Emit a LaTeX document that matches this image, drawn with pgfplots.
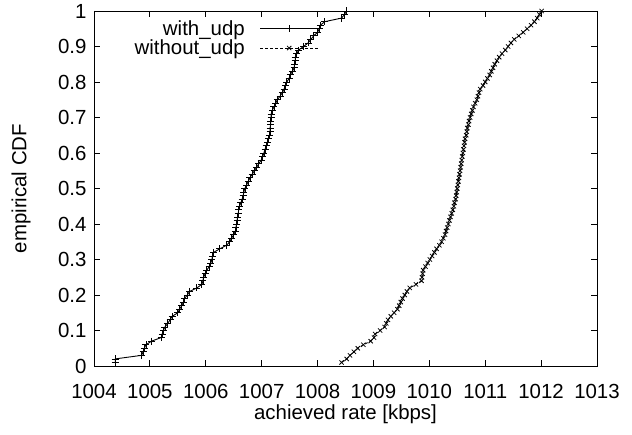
\documentclass[border=0pt]{standalone}
\usepackage{fontspec}
\setmainfont{Liberation Sans}
\usepackage{pgfplots}
\pgfplotsset{compat=1.18}
\begin{document}
\begin{tikzpicture}[font=\fontsize{20.5}{24}\selectfont]
\begin{axis}[
  name=ax,
  scale only axis,
  width=503bp, height=355bp,
  xmin=1004, xmax=1013, ymin=0, ymax=1,
  xtick={1004,1005,...,1013},
  xticklabels={1004,1005,1006,1007,1008,1009,1010,1011,1012,1013},
  ytick={0,0.1,0.2,0.3,0.4,0.5,0.6,0.7,0.8,0.9,1},
  yticklabels={0,0.1,0.2,0.3,0.4,0.5,0.6,0.7,0.8,0.9,1},
  tick align=inside,
  major tick length=6bp,
  tick style={black, line width=0.8bp},
  axis line style={line width=0.9bp},
  every tick label/.append style={font=\fontsize{20.5}{24}\selectfont},
  label style={font=\fontsize{20.5}{24}\selectfont},
  xlabel={achieved rate [kbps]},
  ylabel={empirical CDF},
  xticklabel style={anchor=center, yshift=-25bp},
  yticklabel style={xshift=-4bp},
  xlabel style={at={(axis description cs:0.5,0)}, anchor=center, yshift=-48bp},
  ylabel style={at={(axis description cs:0,0.5)}, anchor=center, rotate=0, yshift=73bp},
  legend style={draw=none, fill=none, at={(0.449,0.982)}, anchor=north east,
    legend cell align=right, row sep=-1bp, inner sep=1bp,
    font=\fontsize{20.5}{24}\selectfont,
    nodes={inner sep=2bp},
    /tikz/every odd column/.append style={column sep=13bp}},
  legend plot pos=right,
  legend image code/.code={\draw[mark repeat=2,mark phase=2,#1] plot coordinates {(0bp,0bp) (29bp,0bp) (58bp,0bp)};},
]
\addplot[black, line width=0.9bp, mark=+, mark size=3.5bp, mark options={solid, line width=0.8bp}] coordinates {
(1004.38,0.01)(1004.38,0.02)(1004.85,0.03)(1004.88,0.04)(1004.90,0.05)(1004.93,0.06)(1005.03,0.07)(1005.20,0.08)(1005.22,0.09)(1005.24,0.10)
(1005.27,0.11)(1005.32,0.12)(1005.36,0.13)(1005.40,0.14)(1005.50,0.15)(1005.53,0.16)(1005.57,0.17)(1005.60,0.18)(1005.62,0.19)(1005.67,0.20)
(1005.71,0.21)(1005.84,0.22)(1005.93,0.23)(1005.95,0.24)(1005.96,0.25)(1005.99,0.26)(1006.02,0.27)(1006.06,0.28)(1006.09,0.29)(1006.11,0.30)
(1006.12,0.31)(1006.14,0.32)(1006.25,0.33)(1006.37,0.34)(1006.43,0.35)(1006.46,0.36)(1006.50,0.37)(1006.53,0.38)(1006.54,0.39)(1006.55,0.40)
(1006.56,0.41)(1006.57,0.42)(1006.58,0.43)(1006.59,0.44)(1006.60,0.45)(1006.63,0.46)(1006.65,0.47)(1006.67,0.48)(1006.68,0.49)(1006.70,0.50)
(1006.73,0.51)(1006.76,0.52)(1006.79,0.53)(1006.83,0.54)(1006.87,0.55)(1006.91,0.56)(1006.95,0.57)(1006.99,0.58)(1007.02,0.59)(1007.04,0.60)
(1007.06,0.61)(1007.08,0.62)(1007.10,0.63)(1007.12,0.64)(1007.14,0.65)(1007.15,0.66)(1007.15,0.67)(1007.16,0.68)(1007.16,0.69)(1007.17,0.70)
(1007.17,0.71)(1007.19,0.72)(1007.22,0.73)(1007.25,0.74)(1007.28,0.75)(1007.33,0.76)(1007.37,0.77)(1007.40,0.78)(1007.43,0.79)(1007.45,0.80)
(1007.49,0.81)(1007.51,0.82)(1007.55,0.83)(1007.58,0.84)(1007.59,0.85)(1007.60,0.86)(1007.60,0.87)(1007.63,0.88)(1007.66,0.89)(1007.75,0.90)
(1007.83,0.91)(1007.88,0.92)(1007.93,0.93)(1008.00,0.94)(1008.03,0.95)(1008.05,0.96)(1008.13,0.97)(1008.43,0.98)(1008.48,0.99)(1008.52,1.00)
};
\addlegendentry{with\_udp}
\addplot[black, line width=0.9bp, dash pattern=on 3bp off 2bp, mark=x, mark size=3bp, mark options={solid, line width=0.8bp}] coordinates {
(1008.43,0.01)(1008.52,0.02)(1008.58,0.03)(1008.65,0.04)(1008.72,0.05)(1008.82,0.06)(1008.95,0.07)(1009.01,0.08)(1009.03,0.09)(1009.12,0.10)
(1009.20,0.11)(1009.23,0.12)(1009.26,0.13)(1009.31,0.14)(1009.37,0.15)(1009.43,0.16)(1009.46,0.17)(1009.49,0.18)(1009.52,0.19)(1009.56,0.20)
(1009.60,0.21)(1009.65,0.22)(1009.76,0.23)(1009.86,0.24)(1009.87,0.25)(1009.88,0.26)(1009.89,0.27)(1009.93,0.28)(1009.97,0.29)(1010.01,0.30)
(1010.05,0.31)(1010.09,0.32)(1010.13,0.33)(1010.18,0.34)(1010.22,0.35)(1010.25,0.36)(1010.28,0.37)(1010.30,0.38)(1010.32,0.39)(1010.34,0.40)
(1010.36,0.41)(1010.38,0.42)(1010.40,0.43)(1010.42,0.44)(1010.44,0.45)(1010.45,0.46)(1010.47,0.47)(1010.48,0.48)(1010.49,0.49)(1010.50,0.50)
(1010.51,0.51)(1010.52,0.52)(1010.53,0.53)(1010.54,0.54)(1010.55,0.55)(1010.56,0.56)(1010.57,0.57)(1010.58,0.58)(1010.59,0.59)(1010.60,0.60)
(1010.61,0.61)(1010.62,0.62)(1010.63,0.63)(1010.64,0.64)(1010.66,0.65)(1010.67,0.66)(1010.68,0.67)(1010.70,0.68)(1010.71,0.69)(1010.73,0.70)
(1010.75,0.71)(1010.77,0.72)(1010.79,0.73)(1010.82,0.74)(1010.85,0.75)(1010.87,0.76)(1010.89,0.77)(1010.91,0.78)(1010.96,0.79)(1011.00,0.80)
(1011.04,0.81)(1011.08,0.82)(1011.11,0.83)(1011.14,0.84)(1011.17,0.85)(1011.21,0.86)(1011.25,0.87)(1011.30,0.88)(1011.36,0.89)(1011.41,0.90)
(1011.46,0.91)(1011.52,0.92)(1011.60,0.93)(1011.68,0.94)(1011.75,0.95)(1011.82,0.96)(1011.88,0.97)(1011.93,0.98)(1011.97,0.99)(1012.01,1.00)
};
\addlegendentry{without\_udp}
\end{axis}
\pgfresetboundingbox
\path ([shift={(-94bp,-68bp)}]ax.south west) rectangle ([shift={(35bp,11bp)}]ax.north east);
\end{tikzpicture}
\end{document}
